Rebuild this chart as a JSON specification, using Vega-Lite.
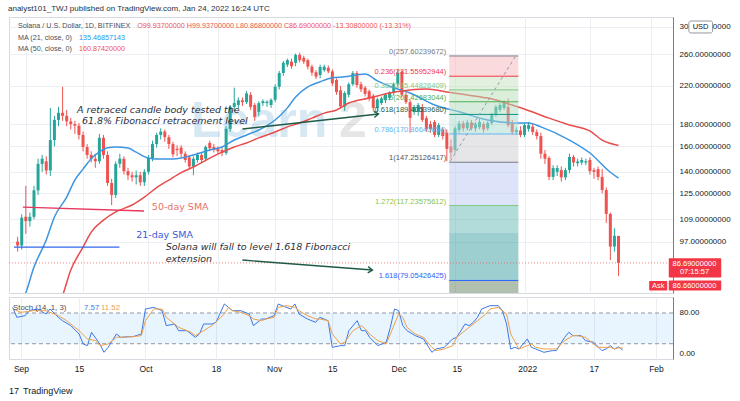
{
"$schema":"https://vega.github.io/schema/vega-lite/v6.json",
"padding":{"left":8,"top":4,"right":0,"bottom":0},
"background":"white",
"title":{"text":"analyst101_TWJ published on TradingView.com, Jan 24, 2022 16:24 UTC","anchor":"start","fontSize":8,"fontWeight":"normal","color":"#2a2e39","offset":4,"font":"Liberation Sans"},
"config":{"view":{"stroke":"#d6d9e0"},"font":"Liberation Sans","axis":{"labelFont":"Liberation Sans"}},
"spacing":2,
"datasets":{
"candles":[
{"d":"2021-08-30","o":97,"h":99.5,"l":92,"c":95},
{"d":"2021-08-31","o":95,"h":112,"l":93,"c":110},
{"d":"2021-09-01","o":110.5,"h":130,"l":101,"c":108},
{"d":"2021-09-02","o":108,"h":113,"l":105,"c":110.5},
{"d":"2021-09-03","o":110.5,"h":130,"l":109,"c":127},
{"d":"2021-09-04","o":127,"h":150,"l":124,"c":146},
{"d":"2021-09-05","o":146,"h":153,"l":140,"c":150},
{"d":"2021-09-06","o":148,"h":152,"l":138,"c":141},
{"d":"2021-09-07","o":141,"h":196,"l":137,"c":165.5},
{"d":"2021-09-08","o":165.5,"h":188,"l":160,"c":184},
{"d":"2021-09-09","o":184,"h":197,"l":178,"c":191},
{"d":"2021-09-10","o":191,"h":219,"l":183,"c":188},
{"d":"2021-09-11","o":188,"h":194,"l":178,"c":182.5},
{"d":"2021-09-12","o":182.5,"h":186,"l":175,"c":180},
{"d":"2021-09-13","o":180,"h":183,"l":171,"c":178.5},
{"d":"2021-09-14","o":178.5,"h":181,"l":166,"c":170},
{"d":"2021-09-15","o":170,"h":173,"l":156,"c":159.5},
{"d":"2021-09-16","o":159.5,"h":162,"l":150,"c":153},
{"d":"2021-09-17","o":153,"h":156,"l":147,"c":150},
{"d":"2021-09-18","o":150,"h":154,"l":143,"c":148},
{"d":"2021-09-19","o":148,"h":171,"l":146,"c":167.5},
{"d":"2021-09-20","o":167.5,"h":170,"l":150,"c":153},
{"d":"2021-09-21","o":153,"h":156,"l":130,"c":132},
{"d":"2021-09-22","o":132,"h":135,"l":117.5,"c":124},
{"d":"2021-09-23","o":124,"h":148,"l":122,"c":146},
{"d":"2021-09-24","o":146,"h":154,"l":143,"c":150},
{"d":"2021-09-25","o":150,"h":152,"l":138,"c":140.5},
{"d":"2021-09-26","o":140.5,"h":143,"l":134,"c":137.5},
{"d":"2021-09-27","o":137.5,"h":140,"l":133,"c":136},
{"d":"2021-09-28","o":136,"h":141,"l":131,"c":137.5},
{"d":"2021-09-29","o":137.5,"h":140,"l":130,"c":132.5},
{"d":"2021-09-30","o":132.5,"h":142,"l":130,"c":140},
{"d":"2021-10-01","o":140,"h":153,"l":138,"c":150.5},
{"d":"2021-10-02","o":150.5,"h":165,"l":148,"c":162},
{"d":"2021-10-03","o":162,"h":172,"l":159,"c":170},
{"d":"2021-10-04","o":170,"h":176,"l":166,"c":173},
{"d":"2021-10-05","o":173,"h":175,"l":164,"c":168},
{"d":"2021-10-06","o":168,"h":170,"l":158,"c":162},
{"d":"2021-10-07","o":162,"h":164,"l":151,"c":153.5},
{"d":"2021-10-08","o":158,"h":161,"l":152,"c":157},
{"d":"2021-10-09","o":159,"h":161,"l":151,"c":154},
{"d":"2021-10-10","o":154,"h":156,"l":147,"c":149},
{"d":"2021-10-11","o":151,"h":153,"l":142,"c":144},
{"d":"2021-10-12","o":144,"h":152,"l":137.5,"c":150},
{"d":"2021-10-13","o":149,"h":155,"l":147,"c":153},
{"d":"2021-10-14","o":153,"h":155,"l":147,"c":149},
{"d":"2021-10-15","o":150,"h":161,"l":148,"c":159.5},
{"d":"2021-10-16","o":163,"h":165,"l":156,"c":158.5},
{"d":"2021-10-17","o":159.5,"h":162,"l":155,"c":157},
{"d":"2021-10-18","o":158,"h":160,"l":154,"c":156},
{"d":"2021-10-19","o":157,"h":159,"l":152,"c":154.5},
{"d":"2021-10-20","o":154.5,"h":178,"l":153,"c":175.5},
{"d":"2021-10-21","o":175.5,"h":199,"l":173,"c":197},
{"d":"2021-10-22","o":197,"h":218,"l":193,"c":201},
{"d":"2021-10-23","o":199,"h":207,"l":196,"c":204},
{"d":"2021-10-24","o":204,"h":207,"l":198,"c":202},
{"d":"2021-10-25","o":202,"h":214,"l":200,"c":211.5},
{"d":"2021-10-26","o":210,"h":213,"l":194,"c":197},
{"d":"2021-10-27","o":199,"h":201,"l":183,"c":187},
{"d":"2021-10-28","o":192,"h":203,"l":188,"c":201},
{"d":"2021-10-29","o":201,"h":205,"l":198,"c":203},
{"d":"2021-10-30","o":201,"h":204,"l":197,"c":202.5},
{"d":"2021-10-31","o":199,"h":206,"l":196,"c":204.5},
{"d":"2021-11-01","o":204.5,"h":222,"l":202,"c":219},
{"d":"2021-11-02","o":219,"h":238,"l":216,"c":235.5},
{"d":"2021-11-03","o":235.5,"h":251,"l":232,"c":248.5},
{"d":"2021-11-04","o":246,"h":254,"l":243,"c":252},
{"d":"2021-11-05","o":250,"h":254,"l":241,"c":244},
{"d":"2021-11-06","o":248.5,"h":261,"l":244,"c":259},
{"d":"2021-11-07","o":259,"h":262,"l":249,"c":252},
{"d":"2021-11-08","o":255,"h":258,"l":247,"c":250},
{"d":"2021-11-09","o":252,"h":254,"l":240,"c":243.5},
{"d":"2021-11-10","o":243.5,"h":246,"l":232,"c":236},
{"d":"2021-11-11","o":236.5,"h":239,"l":228,"c":231},
{"d":"2021-11-12","o":233,"h":246,"l":229,"c":243},
{"d":"2021-11-13","o":239,"h":246,"l":237,"c":243.5},
{"d":"2021-11-14","o":242,"h":245,"l":235,"c":237.5},
{"d":"2021-11-15","o":237.5,"h":240,"l":220,"c":223},
{"d":"2021-11-16","o":227,"h":229,"l":210,"c":213},
{"d":"2021-11-17","o":215,"h":220,"l":195,"c":197.5},
{"d":"2021-11-18","o":197.5,"h":214,"l":193,"c":212},
{"d":"2021-11-19","o":210,"h":224,"l":207,"c":222},
{"d":"2021-11-20","o":222,"h":238,"l":220,"c":235.5},
{"d":"2021-11-21","o":235.5,"h":238,"l":218,"c":221},
{"d":"2021-11-22","o":222,"h":225,"l":213,"c":216},
{"d":"2021-11-23","o":218,"h":220,"l":208,"c":211},
{"d":"2021-11-24","o":214,"h":216,"l":203,"c":206},
{"d":"2021-11-25","o":209,"h":211,"l":193,"c":196},
{"d":"2021-11-26","o":196,"h":207,"l":192,"c":205},
{"d":"2021-11-27","o":201,"h":208,"l":199,"c":206},
{"d":"2021-11-28","o":204,"h":211,"l":201,"c":210},
{"d":"2021-11-29","o":206.5,"h":214,"l":204,"c":212.5},
{"d":"2021-11-30","o":212,"h":224,"l":209,"c":222},
{"d":"2021-12-01","o":222,"h":240,"l":219,"c":236},
{"d":"2021-12-02","o":237,"h":239,"l":207,"c":210},
{"d":"2021-12-03","o":210,"h":213,"l":200,"c":202},
{"d":"2021-12-04","o":202,"h":205,"l":172,"c":186},
{"d":"2021-12-05","o":191.8,"h":199,"l":189,"c":197},
{"d":"2021-12-06","o":192,"h":201,"l":188,"c":199},
{"d":"2021-12-07","o":197,"h":200,"l":182,"c":184},
{"d":"2021-12-08","o":185.7,"h":188,"l":173,"c":175.4},
{"d":"2021-12-09","o":180,"h":183,"l":172,"c":175},
{"d":"2021-12-10","o":182,"h":184,"l":168,"c":170},
{"d":"2021-12-11","o":170,"h":181,"l":168,"c":179},
{"d":"2021-12-12","o":175,"h":177,"l":166,"c":169},
{"d":"2021-12-13","o":172,"h":175,"l":148,"c":158},
{"d":"2021-12-14","o":160,"h":166,"l":150,"c":155},
{"d":"2021-12-15","o":157,"h":178,"l":154,"c":176},
{"d":"2021-12-16","o":174.5,"h":183,"l":172,"c":180.5},
{"d":"2021-12-17","o":180.5,"h":183,"l":173,"c":176},
{"d":"2021-12-18","o":176,"h":184,"l":174,"c":181.5},
{"d":"2021-12-19","o":181.5,"h":184,"l":174,"c":176},
{"d":"2021-12-20","o":176,"h":182,"l":173,"c":180},
{"d":"2021-12-21","o":177,"h":185,"l":175,"c":182},
{"d":"2021-12-22","o":180,"h":182,"l":172,"c":175},
{"d":"2021-12-23","o":176,"h":183,"l":174,"c":181},
{"d":"2021-12-24","o":181,"h":191,"l":179,"c":189},
{"d":"2021-12-25","o":189,"h":199,"l":187,"c":197},
{"d":"2021-12-26","o":194,"h":201,"l":192,"c":199},
{"d":"2021-12-27","o":196,"h":204,"l":194,"c":201},
{"d":"2021-12-28","o":197,"h":206,"l":177,"c":179},
{"d":"2021-12-29","o":181,"h":184,"l":170,"c":172.5},
{"d":"2021-12-30","o":172.5,"h":177,"l":170,"c":174.5},
{"d":"2021-12-31","o":174,"h":178,"l":168,"c":170},
{"d":"2022-01-01","o":170,"h":181,"l":168,"c":179},
{"d":"2022-01-02","o":175.5,"h":182,"l":173,"c":179},
{"d":"2022-01-03","o":177.5,"h":180,"l":170,"c":172.6},
{"d":"2022-01-04","o":172.6,"h":175,"l":166,"c":169},
{"d":"2022-01-05","o":169,"h":172,"l":150,"c":154},
{"d":"2022-01-06","o":154,"h":157,"l":146,"c":150},
{"d":"2022-01-07","o":150.6,"h":152,"l":134,"c":136.3},
{"d":"2022-01-08","o":136.3,"h":145,"l":134,"c":142.8},
{"d":"2022-01-09","o":140,"h":145,"l":137,"c":142.8},
{"d":"2022-01-10","o":141.3,"h":144,"l":133,"c":136},
{"d":"2022-01-11","o":136,"h":143,"l":134,"c":141.3},
{"d":"2022-01-12","o":141.3,"h":154,"l":139,"c":151.4},
{"d":"2022-01-13","o":151.4,"h":153,"l":144,"c":147},
{"d":"2022-01-14","o":146.5,"h":150,"l":144,"c":147.8},
{"d":"2022-01-15","o":147,"h":151,"l":145,"c":149},
{"d":"2022-01-16","o":147,"h":150,"l":145,"c":148},
{"d":"2022-01-17","o":149,"h":151,"l":138,"c":140.5},
{"d":"2022-01-18","o":141.3,"h":143,"l":135,"c":140},
{"d":"2022-01-19","o":142,"h":144,"l":134,"c":136.3},
{"d":"2022-01-20","o":136.3,"h":142,"l":125,"c":127.2},
{"d":"2022-01-21","o":127.2,"h":129,"l":107,"c":112.2},
{"d":"2022-01-22","o":112.2,"h":113,"l":88,"c":94.5},
{"d":"2022-01-23","o":94.5,"h":104,"l":92,"c":99.998},
{"d":"2022-01-24","o":99.937,"h":99.937,"l":80.868,"c":86.69}
],
"ma21":[
{"d":"2021-08-31","v":70},{"d":"2021-09-01","v":74},{"d":"2021-09-03","v":84.8},{"d":"2021-09-06","v":97.8},{"d":"2021-09-08","v":110.4},{"d":"2021-09-11","v":122.6},{"d":"2021-09-13","v":134.1},{"d":"2021-09-15","v":142},{"d":"2021-09-17","v":150},{"d":"2021-09-19","v":155.5},{"d":"2021-09-21","v":159},{"d":"2021-09-23","v":159.6},{"d":"2021-09-26","v":158.7},{"d":"2021-09-28","v":155.3},{"d":"2021-10-01","v":150.5},{"d":"2021-10-03","v":149.8},{"d":"2021-10-07","v":149.8},{"d":"2021-10-09","v":150.5},{"d":"2021-10-12","v":153},{"d":"2021-10-16","v":157},{"d":"2021-10-19","v":159.6},{"d":"2021-10-22","v":165.5},{"d":"2021-10-25","v":170},{"d":"2021-10-28","v":174.5},{"d":"2021-11-01","v":183.9},{"d":"2021-11-04","v":196},{"d":"2021-11-06","v":207.6},{"d":"2021-11-09","v":218.9},{"d":"2021-11-12","v":224.9},{"d":"2021-11-15","v":229.6},{"d":"2021-11-18","v":230.8},{"d":"2021-11-21","v":233.1},{"d":"2021-11-23","v":234.3},{"d":"2021-11-26","v":226},{"d":"2021-11-30","v":218},{"d":"2021-12-04","v":212},{"d":"2021-12-10","v":199},{"d":"2021-12-16","v":192},{"d":"2021-12-23","v":183.9},{"d":"2021-12-30","v":181},{"d":"2022-01-02","v":181},{"d":"2022-01-05","v":177.4},{"d":"2022-01-12","v":165.5},{"d":"2022-01-17","v":154.6},{"d":"2022-01-22","v":139.7},{"d":"2022-01-24","v":135.47}
],
"ma50":[
{"d":"2021-09-09","v":69},{"d":"2021-09-10","v":73},{"d":"2021-09-12","v":83.5},{"d":"2021-09-15","v":94.2},{"d":"2021-09-17","v":101.9},{"d":"2021-09-20","v":108.6},{"d":"2021-09-23","v":113.4},{"d":"2021-09-27","v":117.6},{"d":"2021-09-30","v":122.6},{"d":"2021-10-03","v":128.8},{"d":"2021-10-06","v":134.1},{"d":"2021-10-09","v":139.4},{"d":"2021-10-12","v":143.6},{"d":"2021-10-16","v":150.5},{"d":"2021-10-19","v":155.3},{"d":"2021-10-22","v":159.6},{"d":"2021-10-25","v":163},{"d":"2021-10-28","v":167.4},{"d":"2021-11-01","v":172.7},{"d":"2021-11-04","v":177.4},{"d":"2021-11-07","v":181},{"d":"2021-11-10","v":185.7},{"d":"2021-11-13","v":190.7},{"d":"2021-11-16","v":193.8},{"d":"2021-11-19","v":201.1},{"d":"2021-11-24","v":206.4},{"d":"2021-11-29","v":212},{"d":"2021-12-04","v":215.3},{"d":"2021-12-08","v":216.4},{"d":"2021-12-13","v":213.2},{"d":"2021-12-18","v":209.8},{"d":"2021-12-23","v":206.4},{"d":"2021-12-29","v":199},{"d":"2022-01-03","v":191.8},{"d":"2022-01-07","v":185.7},{"d":"2022-01-12","v":179.2},{"d":"2022-01-17","v":173.6},{"d":"2022-01-20","v":165.5},{"d":"2022-01-24","v":160.87}
],
"wm":[
{"d":"2021-10-28T02:00:00Z","p":182,"t":"Learn","k":"b"},
{"d":"2021-11-20T00:00:00Z","p":182,"t":"2","k":"g"}
],
"fibBands":[
{"x1":"2021-12-13T14:00:00Z","x2":"2021-12-30T12:00:00Z","top":257.60239672,"bot":231.55952944,"b":"b0"},
{"x1":"2021-12-13T14:00:00Z","x2":"2021-12-30T12:00:00Z","top":231.55952944,"bot":215.44826409,"b":"b1"},
{"x1":"2021-12-13T14:00:00Z","x2":"2021-12-30T12:00:00Z","top":215.44826409,"bot":202.42683044,"b":"b2"},
{"x1":"2021-12-13T14:00:00Z","x2":"2021-12-30T12:00:00Z","top":202.42683044,"bot":189.4053968,"b":"b3"},
{"x1":"2021-12-13T14:00:00Z","x2":"2021-12-30T12:00:00Z","top":189.4053968,"bot":170.86640654,"b":"b4"},
{"x1":"2021-12-13T14:00:00Z","x2":"2021-12-30T12:00:00Z","top":170.86640654,"bot":147.25126417,"b":"b5"},
{"x1":"2021-12-13T14:00:00Z","x2":"2021-12-30T12:00:00Z","top":147.25126417,"bot":117.23575612,"b":"b6"},
{"x1":"2021-12-13T14:00:00Z","x2":"2021-12-30T12:00:00Z","top":117.23575612,"bot":101.56589529,"b":"b7"},
{"x1":"2021-12-13T14:00:00Z","x2":"2021-12-30T12:00:00Z","top":101.56589529,"bot":79.05426425,"b":"b8"},
{"x1":"2021-12-13T14:00:00Z","x2":"2021-12-30T12:00:00Z","top":79.05426425,"bot":70,"b":"b9"}
],
"fibLv":[
{"x1":"2021-12-13T14:00:00Z","x2":"2021-12-30T12:00:00Z","p":257.60239672,"lv":"0","t":"0(257.60239672)"},
{"x1":"2021-12-13T14:00:00Z","x2":"2021-12-30T12:00:00Z","p":231.55952944,"lv":"0.236","t":"0.236(231.55952944)"},
{"x1":"2021-12-13T14:00:00Z","x2":"2021-12-30T12:00:00Z","p":215.44826409,"lv":"0.382","t":"0.382(215.44826409)"},
{"x1":"2021-12-13T14:00:00Z","x2":"2021-12-30T12:00:00Z","p":202.42683044,"lv":"0.5","t":"0.5(202.42683044)"},
{"x1":"2021-12-13T14:00:00Z","x2":"2021-12-30T12:00:00Z","p":189.4053968,"lv":"0.618","t":"0.618(189.40539680)"},
{"x1":"2021-12-13T14:00:00Z","x2":"2021-12-30T12:00:00Z","p":170.86640654,"lv":"0.786","t":"0.786(170.86640654)"},
{"x1":"2021-12-13T14:00:00Z","x2":"2021-12-30T12:00:00Z","p":147.25126417,"lv":"1","t":"1(147.25126417)"},
{"x1":"2021-12-13T14:00:00Z","x2":"2021-12-30T12:00:00Z","p":117.23575612,"lv":"1.272","t":"1.272(117.23575612)"},
{"x1":"2021-12-13T14:00:00Z","x2":"2021-12-30T12:00:00Z","p":79.05426425,"lv":"1.618","t":"1.618(79.05426425)"}
],
"fibDiag":[{"x1":"2021-12-13T20:00:00Z","p1":148,"x2":"2021-12-29T20:00:00Z","p2":257.6}],
"lastPrice":[{"p":86.69}],
"lines":[
{"x1":"2021-08-31T06:40:00Z","p1":116.3,"x2":"2021-09-29T22:00:00Z","p2":113.9,"k":"sma50"},
{"x1":"2021-08-29T02:40:00Z","p1":94.2,"x2":"2021-09-23T21:30:00Z","p2":94.2,"k":"sma21"},
{"x1":"2021-10-24T00:00:00Z","p1":175.4,"x2":"2021-11-26T06:30:00Z","p2":189.8,"k":"arrow"},
{"x1":"2021-10-24T00:00:00Z","p1":88.0,"x2":"2021-11-24T19:00:00Z","p2":83.5,"k":"arrow"}
],
"head1":[{"d":"2021-11-26T06:30:00Z","p":189.8}],
"head2":[{"d":"2021-11-24T19:00:00Z","p":83.5}],
"notes":[
{"d":"2021-09-13T12:45:00Z","p":193.8,"t":"A retraced candle body tested the"},
{"d":"2021-09-14T17:30:00Z","p":182.9,"t":"61.8% Fibonacci retracement level"},
{"d":"2021-10-05T05:00:00Z","p":94.2,"t":"Solana will fall to level 1.618 Fibonacci"},
{"d":"2021-10-05T05:00:00Z","p":88.5,"t":"extension"}
],
"smaLab":[
{"d":"2021-10-01T20:00:00Z","p":116.3,"t":"50-day SMA","k":"sma50"},
{"d":"2021-09-28T00:00:00Z","p":100.4,"t":"21-day SMA","k":"sma21"}
],
"legend":[
{"d":"2021-08-30T02:00:00Z","p":301.6,"t":"Solana / U.S. Dollar, 1D, BITFINEX","k":"lbl"},
{"d":"2021-09-28T06:00:00Z","p":301.6,"t":"O99.93700000  H99.93700000  L80.86800000  C86.69000000  -13.30800000 (-13.31%)","k":"dn"},
{"d":"2021-08-30T02:00:00Z","p":283.1,"t":"MA (21, close, 0)","k":"lbl"},
{"d":"2021-09-14T00:00:00Z","p":283.1,"t":"135.46857143","k":"ma21"},
{"d":"2021-08-30T02:00:00Z","p":267.2,"t":"MA (50, close, 0)","k":"lbl"},
{"d":"2021-09-14T00:00:00Z","p":267.2,"t":"160.87420000","k":"ma50"}
],
"redTags":[
{"x1":"2022-02-05T07:00:00Z","x2":"2022-02-18T03:00:00Z","p1":88.9,"p2":80.3},
{"x1":"2022-02-05T07:00:00Z","x2":"2022-02-18T03:00:00Z","p1":79.0,"p2":75.0},
{"x1":"2022-01-31T12:00:00Z","x2":"2022-02-04T22:00:00Z","p1":78.8,"p2":75.0}
],
"usdBox":[{"x1":"2022-02-10T05:00:00Z","x2":"2022-02-16T00:00:00Z","p1":309.6,"p2":290.7}],
"tagText":[
{"d":"2022-02-11T14:00:00Z","p":86.1,"t":"86.69000000","k":"w"},
{"d":"2022-02-11T14:00:00Z","p":82.6,"t":"07:15:57","k":"w"},
{"d":"2022-02-11T14:00:00Z","p":76.9,"t":"86.66000000","k":"w"},
{"d":"2022-02-02T17:00:00Z","p":76.9,"t":"Ask","k":"w"},
{"d":"2022-02-13T02:00:00Z","p":300,"t":"USD","k":"d"}
],
"stBand":[{"x1":"2021-08-29T02:40:00Z","x2":"2022-02-05T02:30:00Z","lo":20,"hi":80}],
"stLines":[{"v":20},{"v":80}],
"stoch":[
{"d":"2021-08-30","s":"K","v":91},{"d":"2021-08-31","s":"K","v":71.5},{"d":"2021-09-02","s":"K","v":74.8},{"d":"2021-09-03","s":"K","v":84.5},{"d":"2021-09-05","s":"K","v":87.8},{"d":"2021-09-07","s":"K","v":78},{"d":"2021-09-08","s":"K","v":87.8},{"d":"2021-09-10","s":"K","v":71.5},{"d":"2021-09-11","s":"K","v":65},{"d":"2021-09-13","s":"K","v":55.3},{"d":"2021-09-15","s":"K","v":39},{"d":"2021-09-16","s":"K","v":19.5},{"d":"2021-09-17","s":"K","v":16.3},{"d":"2021-09-18","s":"K","v":42.3},{"d":"2021-09-20","s":"K","v":19.5},{"d":"2021-09-21","s":"K","v":3.3},{"d":"2021-09-22","s":"K","v":13},{"d":"2021-09-24","s":"K","v":39},{"d":"2021-09-25","s":"K","v":32.5},{"d":"2021-09-27","s":"K","v":33.8},{"d":"2021-09-28","s":"K","v":33.8},{"d":"2021-09-30","s":"K","v":39},{"d":"2021-10-01","s":"K","v":87.8},{"d":"2021-10-03","s":"K","v":91},{"d":"2021-10-05","s":"K","v":84.5},{"d":"2021-10-06","s":"K","v":55.3},{"d":"2021-10-08","s":"K","v":58.5},{"d":"2021-10-09","s":"K","v":45.5},{"d":"2021-10-11","s":"K","v":45.5},{"d":"2021-10-13","s":"K","v":32.5},{"d":"2021-10-14","s":"K","v":39},{"d":"2021-10-15","s":"K","v":58.5},{"d":"2021-10-17","s":"K","v":58.5},{"d":"2021-10-18","s":"K","v":61.8},{"d":"2021-10-20","s":"K","v":97.6},{"d":"2021-10-21","s":"K","v":91},{"d":"2021-10-22","s":"K","v":84.5},{"d":"2021-10-24","s":"K","v":84.5},{"d":"2021-10-26","s":"K","v":78},{"d":"2021-10-27","s":"K","v":55.3},{"d":"2021-10-29","s":"K","v":68.3},{"d":"2021-10-30","s":"K","v":68.3},{"d":"2021-11-01","s":"K","v":74.8},{"d":"2021-11-02","s":"K","v":97.6},{"d":"2021-11-03","s":"K","v":94},{"d":"2021-11-05","s":"K","v":87.8},{"d":"2021-11-06","s":"K","v":97.6},{"d":"2021-11-07","s":"K","v":78},{"d":"2021-11-09","s":"K","v":68.3},{"d":"2021-11-11","s":"K","v":61.8},{"d":"2021-11-12","s":"K","v":71.5},{"d":"2021-11-14","s":"K","v":65},{"d":"2021-11-15","s":"K","v":13},{"d":"2021-11-17","s":"K","v":16.3},{"d":"2021-11-18","s":"K","v":16.3},{"d":"2021-11-19","s":"K","v":45.5},{"d":"2021-11-21","s":"K","v":65},{"d":"2021-11-22","s":"K","v":45.5},{"d":"2021-11-23","s":"K","v":45.5},{"d":"2021-11-24","s":"K","v":32.5},{"d":"2021-11-26","s":"K","v":16.3},{"d":"2021-11-28","s":"K","v":22.8},{"d":"2021-11-29","s":"K","v":52},{"d":"2021-11-30","s":"K","v":87.8},{"d":"2021-12-01","s":"K","v":84.5},{"d":"2021-12-02","s":"K","v":55.3},{"d":"2021-12-03","s":"K","v":45.5},{"d":"2021-12-05","s":"K","v":35.8},{"d":"2021-12-06","s":"K","v":32.5},{"d":"2021-12-07","s":"K","v":29.3},{"d":"2021-12-09","s":"K","v":3.3},{"d":"2021-12-10","s":"K","v":9.8},{"d":"2021-12-12","s":"K","v":13},{"d":"2021-12-14","s":"K","v":29.3},{"d":"2021-12-15","s":"K","v":32.5},{"d":"2021-12-16","s":"K","v":45.5},{"d":"2021-12-17","s":"K","v":58.5},{"d":"2021-12-18","s":"K","v":55.3},{"d":"2021-12-19","s":"K","v":61.8},{"d":"2021-12-20","s":"K","v":71.5},{"d":"2021-12-21","s":"K","v":87.8},{"d":"2021-12-22","s":"K","v":91},{"d":"2021-12-23","s":"K","v":94.3},{"d":"2021-12-25","s":"K","v":94.3},{"d":"2021-12-26","s":"K","v":84.5},{"d":"2021-12-27","s":"K","v":58.5},{"d":"2021-12-28","s":"K","v":9.8},{"d":"2021-12-29","s":"K","v":13},{"d":"2021-12-30","s":"K","v":9.8},{"d":"2022-01-01","s":"K","v":29.3},{"d":"2022-01-02","s":"K","v":13},{"d":"2022-01-03","s":"K","v":9.8},{"d":"2022-01-05","s":"K","v":3.3},{"d":"2022-01-07","s":"K","v":6.5},{"d":"2022-01-08","s":"K","v":6.5},{"d":"2022-01-10","s":"K","v":32.5},{"d":"2022-01-11","s":"K","v":42.3},{"d":"2022-01-12","s":"K","v":35.8},{"d":"2022-01-14","s":"K","v":35.8},{"d":"2022-01-15","s":"K","v":26},{"d":"2022-01-17","s":"K","v":22.8},{"d":"2022-01-19","s":"K","v":6.5},{"d":"2022-01-20","s":"K","v":9.8},{"d":"2022-01-21","s":"K","v":16.3},{"d":"2022-01-22","s":"K","v":9.8},{"d":"2022-01-23","s":"K","v":14},{"d":"2022-01-24","s":"K","v":7.57},
{"d":"2021-08-30","s":"D","v":87.8},{"d":"2021-09-01","s":"D","v":81.3},{"d":"2021-09-04","s":"D","v":84.5},{"d":"2021-09-07","s":"D","v":84.5},{"d":"2021-09-10","s":"D","v":74.8},{"d":"2021-09-12","s":"D","v":65},{"d":"2021-09-15","s":"D","v":45.5},{"d":"2021-09-17","s":"D","v":29.3},{"d":"2021-09-19","s":"D","v":26},{"d":"2021-09-20","s":"D","v":16.3},{"d":"2021-09-22","s":"D","v":19.5},{"d":"2021-09-24","s":"D","v":32.5},{"d":"2021-09-25","s":"D","v":32.5},{"d":"2021-09-28","s":"D","v":33.8},{"d":"2021-09-30","s":"D","v":35.8},{"d":"2021-10-01","s":"D","v":65},{"d":"2021-10-03","s":"D","v":87.8},{"d":"2021-10-05","s":"D","v":87.8},{"d":"2021-10-06","s":"D","v":71.5},{"d":"2021-10-08","s":"D","v":58.5},{"d":"2021-10-09","s":"D","v":52},{"d":"2021-10-12","s":"D","v":42.3},{"d":"2021-10-13","s":"D","v":35.8},{"d":"2021-10-15","s":"D","v":45.5},{"d":"2021-10-17","s":"D","v":55.3},{"d":"2021-10-20","s":"D","v":78},{"d":"2021-10-21","s":"D","v":91},{"d":"2021-10-22","s":"D","v":84.5},{"d":"2021-10-24","s":"D","v":81.3},{"d":"2021-10-26","s":"D","v":74.8},{"d":"2021-10-27","s":"D","v":68.3},{"d":"2021-10-29","s":"D","v":65},{"d":"2021-10-30","s":"D","v":68.3},{"d":"2021-11-01","s":"D","v":71.5},{"d":"2021-11-02","s":"D","v":91},{"d":"2021-11-04","s":"D","v":94.3},{"d":"2021-11-06","s":"D","v":91},{"d":"2021-11-07","s":"D","v":84.5},{"d":"2021-11-09","s":"D","v":74.8},{"d":"2021-11-11","s":"D","v":68.3},{"d":"2021-11-12","s":"D","v":68.3},{"d":"2021-11-14","s":"D","v":65},{"d":"2021-11-15","s":"D","v":39},{"d":"2021-11-17","s":"D","v":19.5},{"d":"2021-11-18","s":"D","v":22.8},{"d":"2021-11-20","s":"D","v":45.5},{"d":"2021-11-22","s":"D","v":55.3},{"d":"2021-11-23","s":"D","v":48.8},{"d":"2021-11-24","s":"D","v":39},{"d":"2021-11-26","s":"D","v":26},{"d":"2021-11-28","s":"D","v":19.5},{"d":"2021-11-29","s":"D","v":39},{"d":"2021-12-01","s":"D","v":78},{"d":"2021-12-02","s":"D","v":71.5},{"d":"2021-12-03","s":"D","v":52},{"d":"2021-12-05","s":"D","v":39},{"d":"2021-12-07","s":"D","v":32.5},{"d":"2021-12-09","s":"D","v":13},{"d":"2021-12-10","s":"D","v":6.5},{"d":"2021-12-12","s":"D","v":9.8},{"d":"2021-12-14","s":"D","v":16.3},{"d":"2021-12-15","s":"D","v":32.5},{"d":"2021-12-17","s":"D","v":45.5},{"d":"2021-12-19","s":"D","v":58.5},{"d":"2021-12-20","s":"D","v":65},{"d":"2021-12-22","s":"D","v":78},{"d":"2021-12-23","s":"D","v":87.8},{"d":"2021-12-25","s":"D","v":91},{"d":"2021-12-27","s":"D","v":78},{"d":"2021-12-28","s":"D","v":39},{"d":"2021-12-30","s":"D","v":9.8},{"d":"2022-01-01","s":"D","v":16.3},{"d":"2022-01-02","s":"D","v":19.5},{"d":"2022-01-03","s":"D","v":13},{"d":"2022-01-05","s":"D","v":9.8},{"d":"2022-01-07","s":"D","v":9.8},{"d":"2022-01-08","s":"D","v":9.8},{"d":"2022-01-10","s":"D","v":26},{"d":"2022-01-12","s":"D","v":35.8},{"d":"2022-01-13","s":"D","v":35.8},{"d":"2022-01-15","s":"D","v":32.5},{"d":"2022-01-16","s":"D","v":26},{"d":"2022-01-18","s":"D","v":13},{"d":"2022-01-19","s":"D","v":13},{"d":"2022-01-21","s":"D","v":13},{"d":"2022-01-22","s":"D","v":9.8},{"d":"2022-01-23","s":"D","v":12},{"d":"2022-01-24","s":"D","v":11.52}
],
"stLeg":[
{"d":"2021-08-30T02:00:00Z","v":89.8,"t":"Stoch (14, 1, 3)","k":"lbl"},
{"d":"2021-09-16T05:00:00Z","v":89.8,"t":"7.57","k":"K"},
{"d":"2021-09-20T07:00:00Z","v":89.8,"t":"11.52","k":"D"}
],
"logo":[
{"d":"2021-08-29T02:40:00Z","v":-72,"t":"17","k":"b"},
{"d":"2021-09-01T12:00:00Z","v":-72,"t":"TradingView","k":"n"}
]
},
"vconcat":[
{
"width":664,"height":276,
"resolve":{"scale":{"color":"independent"}},
"layer":[
{"data":{"name":"wm"},"mark":{"type":"text","fontSize":50,"fontWeight":"bold","font":"Liberation Sans","opacity":0.2,"align":"center","baseline":"middle"},
"encoding":{
"x":{"field":"d","type":"temporal","title":null,"scale":{"type":"utc","domain":[{"year":2021,"month":8,"date":29,"hours":2,"minutes":40,"utc":true},{"year":2022,"month":2,"date":5,"hours":2,"minutes":30,"utc":true}]},
"axis":{"values":[{"year":2021,"month":9,"date":1,"utc":true},{"year":2021,"month":9,"date":15,"utc":true},{"year":2021,"month":10,"date":1,"utc":true},{"year":2021,"month":10,"date":18,"utc":true},{"year":2021,"month":11,"date":1,"utc":true},{"year":2021,"month":11,"date":15,"utc":true},{"year":2021,"month":12,"date":1,"utc":true},{"year":2021,"month":12,"date":15,"utc":true},{"year":2022,"month":1,"date":1,"utc":true},{"year":2022,"month":1,"date":17,"utc":true},{"year":2022,"month":2,"date":1,"utc":true}],"labels":false,"ticks":false,"domain":false,"grid":true,"gridColor":"#eceef3","title":null}},
"y":{"field":"p","type":"quantitative","title":null,"scale":{"type":"log","domain":[74,316.2],"nice":false,"zero":false},
"axis":{"orient":"right","values":[300,260,220,180,160,140,125,109,97],"format":".8f","ticks":false,"grid":true,"gridColor":"#eceef3","labelFontSize":8,"labelColor":"#131722","labelPadding":6,"domainColor":"#787b86","labelOverlap":false,"title":null}},
"text":{"field":"t"},
"color":{"field":"k","type":"nominal","scale":{"domain":["b","g"],"range":["#3d8fd1","#808080"]},"legend":null}}},
{"data":{"name":"candles"},"mark":{"type":"rule","strokeWidth":1},
"encoding":{"x":{"field":"d","type":"temporal","title":null},"y":{"field":"l","type":"quantitative","title":null},"y2":{"field":"h"},
"color":{"condition":{"test":"datum.c >= datum.o","value":"#26a69a"},"value":"#ef5350"}}},
{"data":{"name":"candles"},"mark":{"type":"bar","size":3},
"encoding":{"x":{"field":"d","type":"temporal","title":null},"y":{"field":"o","type":"quantitative","title":null},"y2":{"field":"c"},
"color":{"condition":{"test":"datum.c >= datum.o","value":"#26a69a"},"value":"#ef5350"}}},
{"data":{"name":"ma21"},"mark":{"type":"line","color":"#3d95e0","strokeWidth":1.5,"interpolate":"monotone","clip":true},
"encoding":{"x":{"field":"d","type":"temporal","title":null},"y":{"field":"v","type":"quantitative","title":null}}},
{"data":{"name":"ma50"},"mark":{"type":"line","color":"#e84c4c","strokeWidth":1.5,"interpolate":"monotone","clip":true},
"encoding":{"x":{"field":"d","type":"temporal","title":null},"y":{"field":"v","type":"quantitative","title":null}}},
{"data":{"name":"fibBands"},"mark":{"type":"rect","opacity":0.5,"clip":true},
"encoding":{"x":{"field":"x1","type":"temporal","title":null},"x2":{"field":"x2"},"y":{"field":"top","type":"quantitative","title":null},"y2":{"field":"bot"},
"color":{"field":"b","type":"nominal","scale":{"domain":["b0","b1","b2","b3","b4","b5","b6","b7","b8","b9"],"range":["#f5b5bb","#c5e1bf","#b7ddb5","#b1d9bd","#a9d9cd","#cdcdd3","#bbc9f5","#65b9b3","#3b9fa1","#617f5d"]},"legend":null}}},
{"data":{"name":"fibLv"},"mark":{"type":"rule","strokeWidth":1},
"encoding":{"x":{"field":"x1","type":"temporal","title":null},"x2":{"field":"x2"},"y":{"field":"p","type":"quantitative","title":null},
"color":{"field":"lv","type":"nominal","scale":{"domain":["0","0.236","0.382","0.5","0.618","0.786","1","1.272","1.618"],"range":["#787b86","#f23645","#81c784","#4caf50","#089981","#64b5f6","#787b86","#81c784","#2962ff"]},"legend":null}}},
{"data":{"name":"fibLv"},"mark":{"type":"text","align":"right","baseline":"bottom","dx":-3,"fontSize":7.5},
"encoding":{"x":{"field":"x1","type":"temporal","title":null},"y":{"field":"p","type":"quantitative","title":null},"text":{"field":"t"},
"color":{"field":"lv","type":"nominal","scale":{"domain":["0","0.236","0.382","0.5","0.618","0.786","1","1.272","1.618"],"range":["#787b86","#f23645","#81c784","#4caf50","#1e5e4e","#64b5f6","#50535e","#8bc34a","#2962ff"]},"legend":null}}},
{"data":{"name":"fibDiag"},"mark":{"type":"rule","strokeDash":[3,3],"color":"#9598a1","strokeWidth":1},
"encoding":{"x":{"field":"x1","type":"temporal","title":null},"x2":{"field":"x2"},"y":{"field":"p1","type":"quantitative","title":null},"y2":{"field":"p2"}}},
{"data":{"name":"lastPrice"},"mark":{"type":"rule","strokeDash":[1,2],"color":"#ef5350","opacity":0.7},
"encoding":{"y":{"field":"p","type":"quantitative","title":null}}},
{"data":{"name":"lines"},"mark":{"type":"rule","strokeWidth":1.4},
"encoding":{"x":{"field":"x1","type":"temporal","title":null},"x2":{"field":"x2"},"y":{"field":"p1","type":"quantitative","title":null},"y2":{"field":"p2"},
"color":{"field":"k","type":"nominal","scale":{"domain":["sma50","sma21","arrow"],"range":["#e8365d","#3366ee","#1e5a46"]},"legend":null}}},
{"data":{"name":"head1"},"mark":{"type":"point","shape":"M -1 -0.7 L 0 0 L -1 0.7","filled":false,"size":80,"angle":-6,"color":"#1e5a46","strokeWidth":1.4,"opacity":1},
"encoding":{"x":{"field":"d","type":"temporal","title":null},"y":{"field":"p","type":"quantitative","title":null}}},
{"data":{"name":"head2"},"mark":{"type":"point","shape":"M -1 -0.7 L 0 0 L -1 0.7","filled":false,"size":80,"angle":4,"color":"#1e5a46","strokeWidth":1.4,"opacity":1},
"encoding":{"x":{"field":"d","type":"temporal","title":null},"y":{"field":"p","type":"quantitative","title":null}}},
{"data":{"name":"notes"},"mark":{"type":"text","align":"left","baseline":"middle","font":"DejaVu Sans","fontStyle":"italic","fontSize":9.5,"color":"#2a2e39"},
"encoding":{"x":{"field":"d","type":"temporal","title":null},"y":{"field":"p","type":"quantitative","title":null},"text":{"field":"t"}}},
{"data":{"name":"smaLab"},"mark":{"type":"text","align":"left","baseline":"middle","font":"DejaVu Sans","fontSize":9.5},
"encoding":{"x":{"field":"d","type":"temporal","title":null},"y":{"field":"p","type":"quantitative","title":null},"text":{"field":"t"},
"color":{"field":"k","type":"nominal","scale":{"domain":["sma50","sma21"],"range":["#ea6f6a","#3a5bd9"]},"legend":null}}},
{"data":{"name":"legend"},"mark":{"type":"text","align":"left","baseline":"middle","fontSize":7.2},
"encoding":{"x":{"field":"d","type":"temporal","title":null},"y":{"field":"p","type":"quantitative","title":null},"text":{"field":"t"},
"color":{"field":"k","type":"nominal","scale":{"domain":["lbl","dn","ma21","ma50"],"range":["#4a4e5a","#ef5350","#2196f3","#ef5350"]},"legend":null}}},
{"data":{"name":"redTags"},"mark":{"type":"rect","color":"#f23645","clip":false,"cornerRadius":1},
"encoding":{"x":{"field":"x1","type":"temporal","title":null},"x2":{"field":"x2"},"y":{"field":"p1","type":"quantitative","title":null},"y2":{"field":"p2"}}},
{"data":{"name":"usdBox"},"mark":{"type":"rect","fill":"#ffffff","stroke":"#9598a1","strokeWidth":1,"clip":false,"cornerRadius":2},
"encoding":{"x":{"field":"x1","type":"temporal","title":null},"x2":{"field":"x2"},"y":{"field":"p1","type":"quantitative","title":null},"y2":{"field":"p2"}}},
{"data":{"name":"tagText"},"mark":{"type":"text","align":"center","baseline":"middle","fontSize":7.5,"clip":false},
"encoding":{"x":{"field":"d","type":"temporal","title":null},"y":{"field":"p","type":"quantitative","title":null},"text":{"field":"t"},
"color":{"field":"k","type":"nominal","scale":{"domain":["w","d"],"range":["#ffffff","#131722"]},"legend":null}}}
]
},
{
"width":664,"height":62,
"resolve":{"scale":{"color":"independent"}},
"layer":[
{"data":{"name":"stBand"},"mark":{"type":"rect","color":"#2196f3","opacity":0.1},
"encoding":{
"x":{"field":"x1","type":"temporal","title":null,"scale":{"type":"utc","domain":[{"year":2021,"month":8,"date":29,"hours":2,"minutes":40,"utc":true},{"year":2022,"month":2,"date":5,"hours":2,"minutes":30,"utc":true}]},
"axis":{"values":[{"year":2021,"month":9,"date":1,"utc":true},{"year":2021,"month":9,"date":15,"utc":true},{"year":2021,"month":10,"date":1,"utc":true},{"year":2021,"month":10,"date":18,"utc":true},{"year":2021,"month":11,"date":1,"utc":true},{"year":2021,"month":11,"date":15,"utc":true},{"year":2021,"month":12,"date":1,"utc":true},{"year":2021,"month":12,"date":15,"utc":true},{"year":2022,"month":1,"date":1,"utc":true},{"year":2022,"month":1,"date":17,"utc":true},{"year":2022,"month":2,"date":1,"utc":true}],
"labelExpr":"utcdate(datum.value) == 1 ? (utcmonth(datum.value) == 0 ? utcFormat(datum.value, '%Y') : utcFormat(datum.value, '%b')) : utcFormat(datum.value, '%-d')",
"ticks":false,"domain":false,"grid":true,"gridColor":"#eceef3","labelFontSize":8.5,"labelColor":"#131722","labelPadding":5,"labelOverlap":false,"title":null}},
"x2":{"field":"x2"},
"y":{"field":"lo","type":"quantitative","title":null,"scale":{"domain":[-9.8,111.2],"nice":false,"zero":false},
"axis":{"orient":"right","values":[0,40,80],"format":".2f","ticks":false,"grid":false,"labelFontSize":8,"labelColor":"#131722","labelPadding":6,"domainColor":"#787b86","title":null}},
"y2":{"field":"hi"}}},
{"data":{"name":"stLines"},"mark":{"type":"rule","strokeDash":[4,3],"color":"#9598a1","strokeWidth":1},
"encoding":{"y":{"field":"v","type":"quantitative","title":null}}},
{"data":{"name":"stoch"},"mark":{"type":"line","strokeWidth":1},
"encoding":{"x":{"field":"d","type":"temporal","title":null},"y":{"field":"v","type":"quantitative","title":null},
"color":{"field":"s","type":"nominal","scale":{"domain":["K","D"],"range":["#3c78e6","#f0a04b"]},"legend":null}}},
{"data":{"name":"stLeg"},"mark":{"type":"text","align":"left","baseline":"middle","fontSize":7.8},
"encoding":{"x":{"field":"d","type":"temporal","title":null},"y":{"field":"v","type":"quantitative","title":null},"text":{"field":"t"},
"color":{"field":"k","type":"nominal","scale":{"domain":["lbl","K","D"],"range":["#4a4e5a","#3c78e6","#f0a04b"]},"legend":null}}},
{"data":{"name":"logo"},"mark":{"type":"text","align":"left","baseline":"middle","fontSize":9,"clip":false,"color":"#131722"},
"encoding":{"x":{"field":"d","type":"temporal","title":null},"y":{"field":"v","type":"quantitative","title":null},"text":{"field":"t"},
"fontWeight":{"field":"k","type":"nominal","scale":{"domain":["b","n"],"range":["bold","normal"]},"legend":null}}}
]
}
]
}
